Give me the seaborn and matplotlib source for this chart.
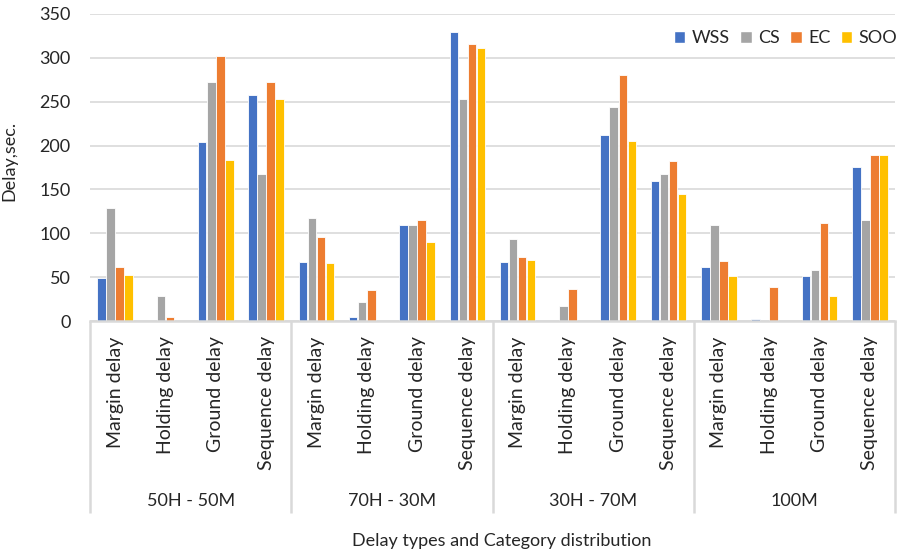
import matplotlib
matplotlib.use("Agg")
import matplotlib.pyplot as plt
import matplotlib.transforms as mtransforms
from matplotlib.patches import Patch
import seaborn as sns
import pandas as pd

# Scenario groups and delay types shown on the two-level category axis
scenarios = ["50H - 50M", "70H - 30M", "30H - 70M", "100M"]
delay_types = ["Margin delay", "Holding delay", "Ground delay", "Sequence delay"]
methods = ["WSS", "CS", "EC", "SOO"]

# Delay in seconds, one list per method, ordered scenario by scenario,
# delay type within scenario
wss = [49, 0, 204, 258,   67, 5, 109, 330,   67, 0, 212, 160,   62, 2, 51, 176]
cs  = [129, 28, 272, 168, 117, 22, 110, 253,  94, 17, 244, 168,  110, 0, 58, 115]
ec  = [61, 5, 302, 272,   96, 35, 115, 316,  73, 36, 280, 182,  68, 39, 112, 189]
soo = [52, 0, 184, 253,   66, 0, 90, 311,    70, 0, 205, 145,   51, 0, 29, 189]

colors = ["#4472C4", "#A5A5A5", "#ED7D31", "#FFC000"]
text_color = "#262626"
line_color = "#d9d9d9"

sns.set_theme(style="white")
plt.rcParams["font.family"] = ["Lato", "DejaVu Sans"]

# long-form table: one row per bar
keys = [f"{s}|{d}" for s in scenarios for d in delay_types]
rows = []
for name, vals in zip(methods, [wss, cs, ec, soo]):
    for k, v in zip(keys, vals):
        rows.append({"slot": k, "method": name, "delay": v})
df = pd.DataFrame(rows)

fig = plt.figure(figsize=(8.99, 5.57), dpi=100)
ax = fig.add_axes([90 / 899, 236 / 557, 805 / 899, 307 / 557])

sns.barplot(data=df, x="slot", y="delay", hue="method", order=keys,
            hue_order=methods, palette=colors, width=0.72, gap=0.06,
            edgecolor="white", linewidth=0.6, saturation=1, ax=ax, legend=False)

ax.set_ylim(0, 350)
ax.set_xlim(-0.5, len(keys) - 0.5)
ax.set_yticks(range(0, 351, 50))
ax.yaxis.grid(True, color=line_color, linewidth=1.2)
ax.set_axisbelow(True)
for side in ["left", "right", "top"]:
    ax.spines[side].set_visible(False)
ax.spines["bottom"].set_color(line_color)
ax.spines["bottom"].set_linewidth(1.8)

ax.tick_params(axis="y", length=0, pad=14, labelsize=13, labelcolor=text_color)
ax.set_xticks(range(len(keys)))
ax.set_xticklabels([d for s in scenarios for d in delay_types], rotation=90,
                   fontsize=14, color=text_color)
ax.tick_params(axis="x", length=0, pad=11)

ax.set_xlabel("")
ax.set_ylabel("Delay,sec.", fontsize=13, color=text_color)
ax.yaxis.set_label_coords(-0.09, 0.52)

# group separators and group labels of the second axis level
trans = mtransforms.blended_transform_factory(ax.transData, ax.transAxes)
n = len(delay_types)
for i in range(len(scenarios) + 1):
    xb = i * n - 0.5
    ax.plot([xb, xb], [0, -0.625], transform=trans, color=line_color,
            linewidth=1.8, clip_on=False, solid_capstyle="butt")
for i, s in enumerate(scenarios):
    ax.text(i * n + (n - 1) / 2, -0.585, s, transform=trans, ha="center",
            va="center", fontsize=13, color=text_color)

ax.text(0.512, -0.717, "Delay types and Category distribution",
        transform=ax.transAxes, ha="center", va="center", fontsize=13,
        color=text_color)

handles = [Patch(facecolor=c, edgecolor="white", label=m)
           for m, c in zip(methods, colors)]
ax.legend(handles=handles, loc="center right", bbox_to_anchor=(1.003, 0.921),
          ncol=4, frameon=False, fontsize=13, handlelength=0.62,
          handleheight=0.62, handletextpad=0.35, columnspacing=0.6,
          borderaxespad=0, borderpad=0, labelcolor=text_color)

fig.savefig("out.png", dpi=100)
